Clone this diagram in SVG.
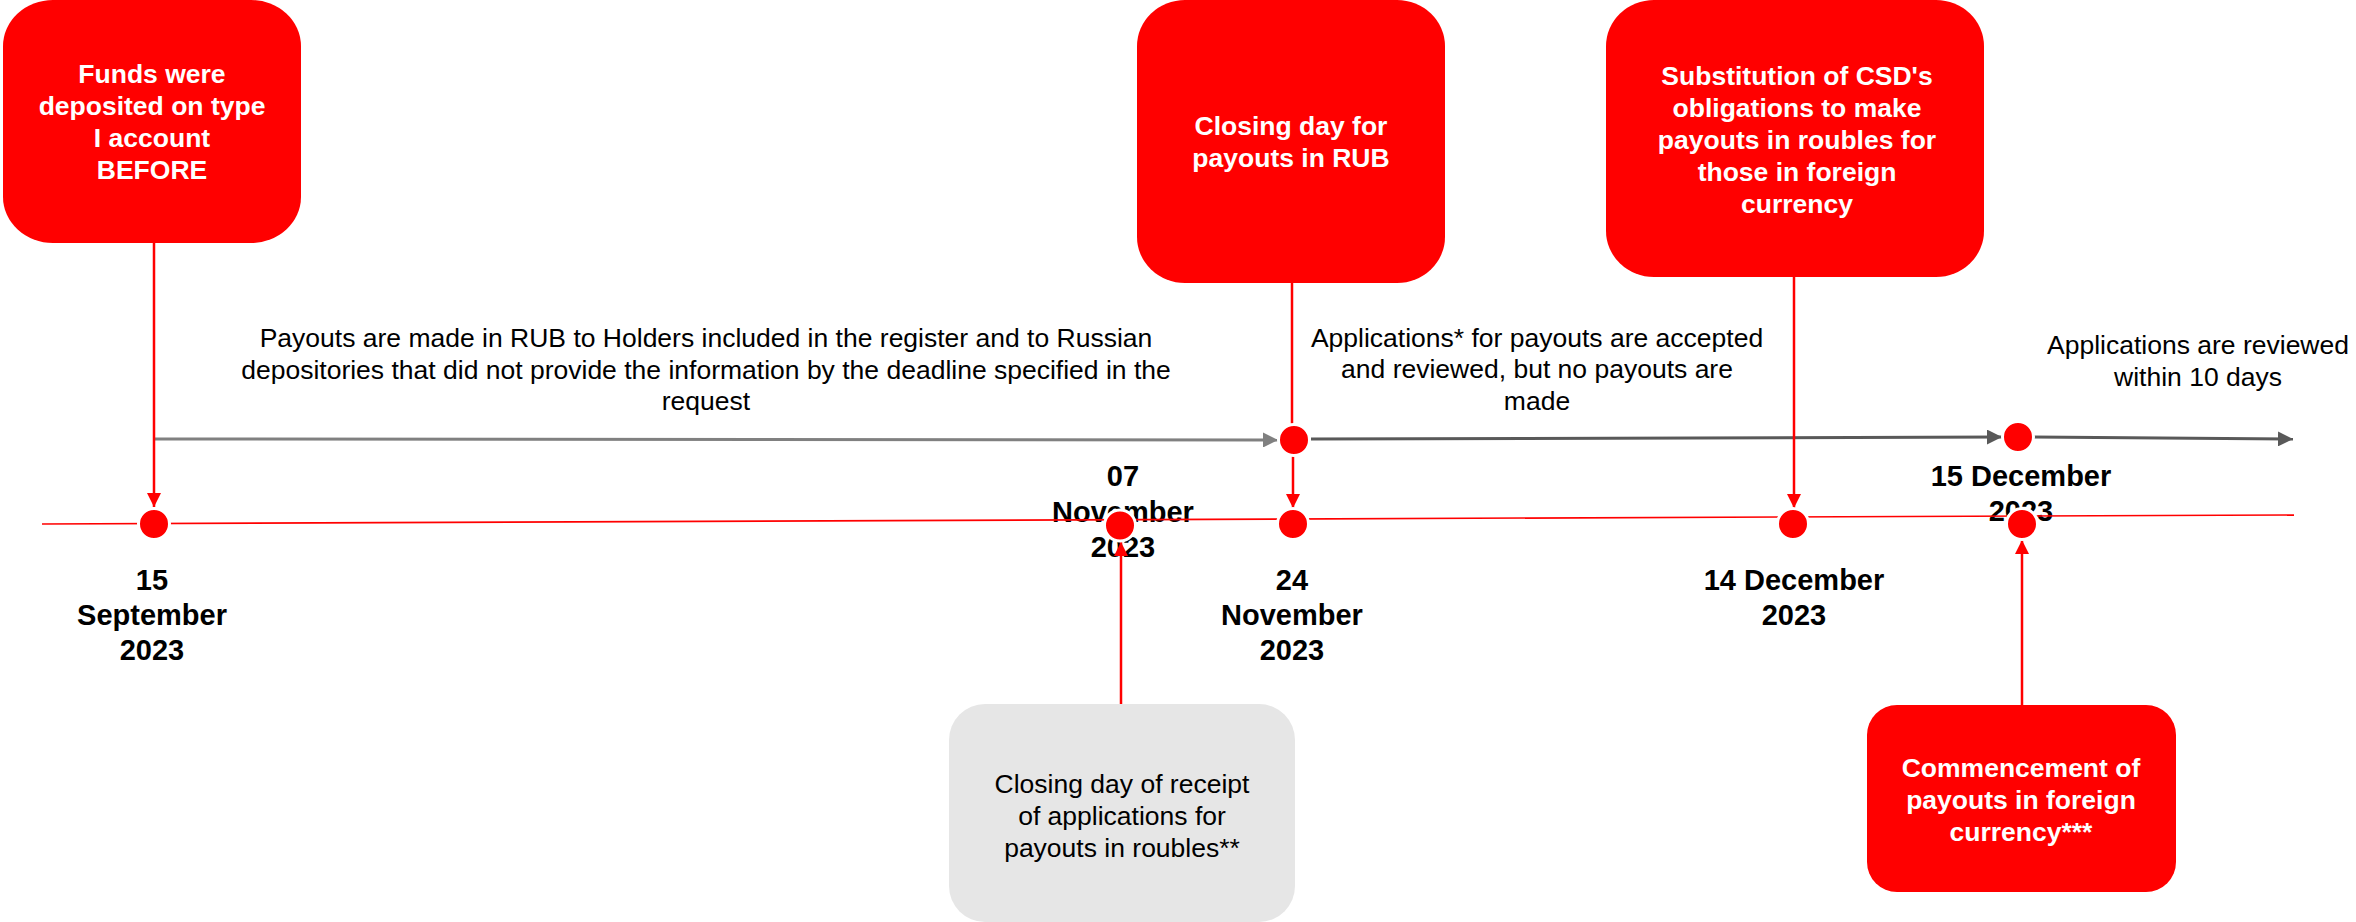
<svg xmlns="http://www.w3.org/2000/svg" width="2356" height="922" viewBox="0 0 2356 922">
<style>
.box{fill:#ff0000}
.gbox{fill:#e6e6e6}
.bt{font-family:"Liberation Sans",Arial,sans-serif;font-size:26.5px;font-weight:bold;fill:#ffffff;text-anchor:middle}
.gt{font-family:"Liberation Sans",Arial,sans-serif;font-size:26.5px;fill:#000000;text-anchor:middle}
.dt{font-family:"Liberation Sans",Arial,sans-serif;font-size:29px;font-weight:bold;fill:#000000;text-anchor:middle}
.red{stroke:#ff0000;stroke-width:2.5;fill:none}
.tl{stroke:#ff0000;stroke-width:1.6;fill:none}
.g1{stroke:#808080;stroke-width:3;fill:none}
.g2{stroke:#595959;stroke-width:3;fill:none}
.dot{fill:#ff0000;stroke:#ffffff;stroke-width:3}
</style>
<defs>
<marker id="ar" markerUnits="userSpaceOnUse" markerWidth="14" markerHeight="14" refX="14" refY="7" orient="auto"><path d="M0,0 L14,7 L0,14 z" fill="#ff0000"/></marker>
<marker id="ag1" markerUnits="userSpaceOnUse" markerWidth="15" markerHeight="15" refX="15" refY="7.5" orient="auto"><path d="M0,0 L15,7.5 L0,15 z" fill="#808080"/></marker>
<marker id="ag2" markerUnits="userSpaceOnUse" markerWidth="15" markerHeight="15" refX="15" refY="7.5" orient="auto"><path d="M0,0 L15,7.5 L0,15 z" fill="#595959"/></marker>
</defs>
<rect width="2356" height="922" fill="#ffffff"/>

<g id="labels">
<text class="gt" x="706" y="347">Payouts are made in RUB to Holders included in the register and to Russian</text>
<text class="gt" x="706" y="379">depositories that did not provide the information by the deadline specified in the</text>
<text class="gt" x="706" y="410">request</text>
<text class="gt" x="1537" y="347">Applications* for payouts are accepted</text>
<text class="gt" x="1537" y="378">and reviewed, but no payouts are</text>
<text class="gt" x="1537" y="410">made</text>
<text class="gt" x="2198" y="354">Applications are reviewed</text>
<text class="gt" x="2198" y="386">within 10 days</text>
</g>

<g id="dates">
<text class="dt" x="152" y="590">15</text>
<text class="dt" x="152" y="625">September</text>
<text class="dt" x="152" y="660">2023</text>
<text class="dt" x="1123" y="486">07</text>
<text class="dt" x="1123" y="522">November</text>
<text class="dt" x="1123" y="557">2023</text>
<text class="dt" x="1292" y="590">24</text>
<text class="dt" x="1292" y="625">November</text>
<text class="dt" x="1292" y="660">2023</text>
<text class="dt" x="1794" y="590">14 December</text>
<text class="dt" x="1794" y="625">2023</text>
<text class="dt" x="2021" y="486">15 December</text>
<text class="dt" x="2021" y="521">2023</text>
</g>

<g id="connectors">
<line class="tl" x1="42" y1="524" x2="2294" y2="515"/>
<line class="g1" x1="155" y1="439" x2="1278" y2="440" marker-end="url(#ag1)"/>
<line class="g2" x1="1311" y1="439" x2="2002" y2="437" marker-end="url(#ag2)"/>
<line class="g2" x1="2033" y1="437" x2="2293" y2="439" marker-end="url(#ag2)"/>
<line class="red" x1="154" y1="243" x2="154" y2="507" marker-end="url(#ar)"/>
<line class="red" x1="1292" y1="283" x2="1292" y2="430"/>
<line class="red" x1="1293" y1="456" x2="1293" y2="508" marker-end="url(#ar)"/>
<line class="red" x1="1794" y1="277" x2="1794" y2="508" marker-end="url(#ar)"/>
<line class="red" x1="1121" y1="704" x2="1121" y2="542" marker-end="url(#ar)"/>
<line class="red" x1="2022" y1="705" x2="2022" y2="540" marker-end="url(#ar)"/>
</g>

<g id="dots">
<circle class="dot" cx="154" cy="524" r="15.5"/>
<circle class="dot" cx="1120" cy="525.5" r="15.5"/>
<circle class="dot" cx="1293" cy="524" r="15.5"/>
<circle class="dot" cx="1294" cy="440" r="15.5"/>
<circle class="dot" cx="1793" cy="524" r="15.5"/>
<circle class="dot" cx="2018" cy="437" r="15.5"/>
<circle class="dot" cx="2022" cy="524" r="15.5"/>
</g>

<g id="node-funds">
<rect class="box" x="3" y="0" width="298" height="243" rx="50" ry="46"/>
<text class="bt" x="152" y="83">Funds were</text>
<text class="bt" x="152" y="115">deposited on type</text>
<text class="bt" x="152" y="147">I account</text>
<text class="bt" x="152" y="179">BEFORE</text>
</g>

<g id="node-closing-rub">
<rect class="box" x="1137" y="0" width="308" height="283" rx="48" ry="46"/>
<text class="bt" x="1291" y="135">Closing day for</text>
<text class="bt" x="1291" y="167">payouts in RUB</text>
</g>

<g id="node-substitution">
<rect class="box" x="1606" y="0" width="378" height="277" rx="48" ry="46"/>
<text class="bt" x="1797" y="85">Substitution of CSD's</text>
<text class="bt" x="1797" y="117">obligations to make</text>
<text class="bt" x="1797" y="149">payouts in roubles for</text>
<text class="bt" x="1797" y="181">those in foreign</text>
<text class="bt" x="1797" y="213">currency</text>
</g>

<g id="node-closing-receipt">
<rect class="gbox" x="949" y="704" width="346" height="218" rx="36" ry="36"/>
<text class="gt" x="1122" y="793">Closing day of receipt</text>
<text class="gt" x="1122" y="825">of applications for</text>
<text class="gt" x="1122" y="857">payouts in roubles**</text>
</g>

<g id="node-commencement">
<rect class="box" x="1867" y="705" width="309" height="187" rx="30" ry="30"/>
<text class="bt" x="2021" y="777">Commencement of</text>
<text class="bt" x="2021" y="809">payouts in foreign</text>
<text class="bt" x="2021" y="841">currency***</text>
</g>
</svg>
